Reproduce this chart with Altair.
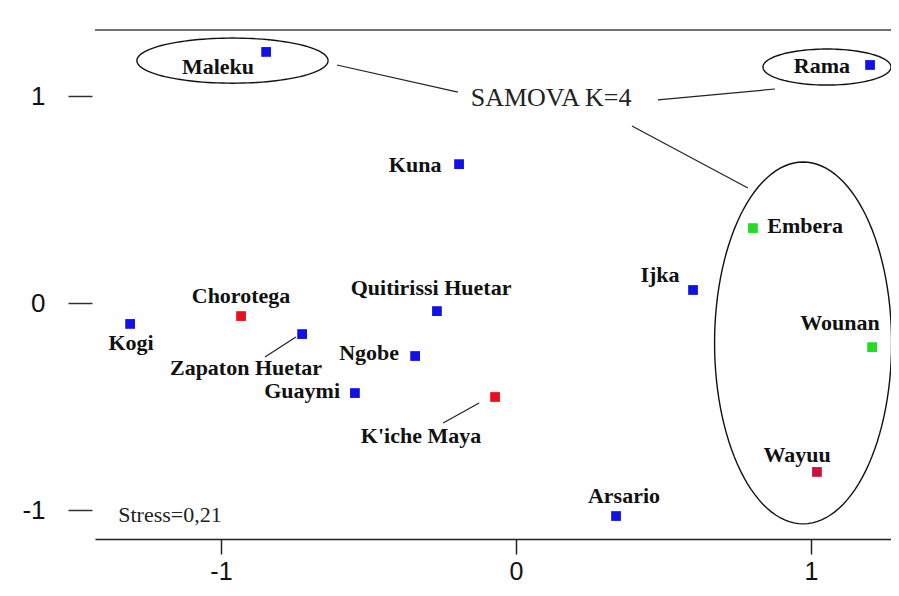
import altair as alt
import pandas as pd
import numpy as np

# ---- data ----
names = ["Maleku", "Rama", "Kuna", "Embera", "Ijka", "Chorotega", "Quitirissi Huetar",
         "Kogi", "Zapaton Huetar", "Ngobe", "Wounan", "Guaymi", "K'iche Maya", "Wayuu", "Arsario"]
dim1 = [-0.847, 1.200, -0.193, 0.803, 0.600, -0.932, -0.268,
        -1.308, -0.725, -0.342, 1.207, -0.546, -0.071, 1.020, 0.339]
dim2 = [1.213, 1.150, 0.671, 0.362, 0.063, -0.063, -0.039,
        -0.101, -0.150, -0.256, -0.213, -0.435, -0.454, -0.816, -1.029]
group = ["blue", "blue", "blue", "green", "blue", "red", "blue",
         "blue", "blue", "blue", "green", "blue", "red", "crimson", "blue"]
# label anchor positions (data units, text baseline)
label_x = [-1.010, 1.037, -0.342, 0.980, 0.488, -0.932, -0.288,
           -1.305, -0.915, -0.498, 1.098, -0.725, -0.322, 0.953, 0.366]
label_y = [1.106, 1.111, 0.633, 0.338, 0.101, 0.000, 0.039,
           -0.227, -0.348, -0.275, -0.130, -0.459, -0.676, -0.768, -0.966]

# annotations
note_text = ["SAMOVA K=4", "Stress=0,21"]
note_x = [0.119, -1.173]
note_y = [0.952, -1.058]
note_size = [26, 22]

# cluster ellipses: centre x, centre y, radius x, radius y
ell_cx = [-0.961, 1.054, 0.973]
ell_cy = [1.171, 1.140, -0.193]
ell_rx = [0.324, 0.217, 0.300]
ell_ry = [0.109, 0.087, 0.874]

# connector segments
seg_x1 = [-0.607, 0.481, 0.393, -0.746, -0.125]
seg_y1 = [1.150, 0.981, 0.855, -0.164, -0.483]
seg_x2 = [-0.197, 0.878, 0.786, -0.851, -0.247]
seg_y2 = [1.019, 1.034, 0.556, -0.261, -0.580]

x_ticks = [-1, 0, 1]
y_ticks = [-1, 0, 1]
x_domain = [-1.427, 1.271]
y_domain = [-1.140, 1.319]

# ---- tables ----
pts = pd.DataFrame({"name": names, "x": dim1, "y": dim2, "group": group,
                    "lx": label_x, "ly": label_y})
notes = pd.DataFrame({"text": note_text, "x": note_x, "y": note_y, "size": note_size})
segs = pd.DataFrame({"x": seg_x1, "y": seg_y1, "x2": seg_x2, "y2": seg_y2})

t = np.linspace(0, 2 * np.pi, 121)
rows = []
for i in range(len(ell_cx)):
    for k, tt in enumerate(t):
        rows.append({"id": i, "k": k,
                     "x": ell_cx[i] + ell_rx[i] * np.cos(tt),
                     "y": ell_cy[i] + ell_ry[i] * np.sin(tt)})
ell = pd.DataFrame(rows)

xs = alt.Scale(domain=x_domain, nice=False, zero=False)
ys = alt.Scale(domain=y_domain, nice=False, zero=False)

X = alt.X("x:Q", scale=xs, axis=alt.Axis(
    values=x_ticks, title=None, grid=False, domain=True, domainColor="#222",
    domainWidth=1.5, tickColor="#222", tickWidth=1.5, tickSize=15,
    labelFont="Liberation Sans", labelFontSize=25, labelColor="#111",
    labelPadding=5, labelExpr="datum.value"))
Y = alt.Y("y:Q", scale=ys, axis=alt.Axis(
    values=y_ticks, title=None, grid=False, domain=False, offset=3,
    tickColor="#333", tickWidth=1.5, tickSize=24,
    labelFont="Liberation Sans", labelFontSize=26, labelColor="#111",
    labelPadding=23, labelExpr="datum.value"))

top_rule = alt.Chart(pd.DataFrame({"y": [y_domain[1]]})).mark_rule(
    color="#444", strokeWidth=1.5).encode(y=alt.Y("y:Q", scale=ys))

ellipses = alt.Chart(ell).mark_line(color="#111", strokeWidth=1.4).encode(
    x=X, y=Y, detail="id:N", order="k:Q")

lines = alt.Chart(segs).mark_rule(color="#222", strokeWidth=1.2).encode(
    x=alt.X("x:Q", scale=xs), y=alt.Y("y:Q", scale=ys),
    x2="x2:Q", y2="y2:Q")

points = alt.Chart(pts).mark_square(size=95, opacity=1).encode(
    x=X, y=Y,
    color=alt.Color("group:N", legend=None, scale=alt.Scale(
        domain=["blue", "red", "green", "crimson"],
        range=["#1010E8", "#E8101C", "#22DD22", "#CC1040"])))

labels = alt.Chart(pts).mark_text(
    font="Liberation Serif", fontWeight="bold", fontSize=22, color="#111",
    baseline="alphabetic", align="center").encode(
    x=alt.X("lx:Q", scale=xs), y=alt.Y("ly:Q", scale=ys), text="name:N")

note_layer = alt.Chart(notes).mark_text(
    font="Liberation Serif", color="#222", baseline="alphabetic", align="center").encode(
    x=alt.X("x:Q", scale=xs), y=alt.Y("y:Q", scale=ys), text="text:N",
    size=alt.Size("size:Q", scale=None, legend=None))

chart = alt.layer(top_rule, ellipses, lines, points, labels, note_layer).properties(
    width=796, height=509,
    autosize=alt.AutoSizeParams(type="none"),
    padding={"left": 87, "top": 22, "right": 0, "bottom": 45},
).configure(background="white").configure_view(stroke=None)

chart.save("out.html", embed_options={"renderer": "svg", "actions": False})
